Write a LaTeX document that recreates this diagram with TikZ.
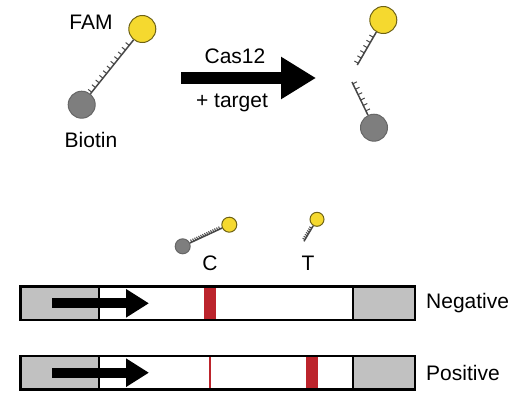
\documentclass[tikz,border=0pt]{standalone}
\usepackage{fontspec}
\setmainfont{Liberation Sans}
\usetikzlibrary{arrows.meta,decorations.markings}
\definecolor{Fam}{HTML}{F5D92F}
\definecolor{Bio}{HTML}{7E7E7E}
\definecolor{Pad}{HTML}{C1C1C1}
\definecolor{Line}{HTML}{BC242C}
\tikzset{
  dye/.style={circle,draw=#1,fill=#1,line width=1pt,inner sep=0pt,minimum size=27pt},
  famdye/.style={dye=Fam,draw=Fam!45!black},
  biodye/.style={dye=Bio,draw=black!60},
  strand/.style 2 args={draw=black!72,line width=1.5pt,postaction={decorate},
    decoration={markings,mark=between positions 2pt and -1pt step #1 with {\draw[line width=1pt,black!72] (0pt,0pt)--(0pt,#2);}}},
  strip/.style={draw=black,line width=2.3pt,inner sep=0pt,outer sep=0pt,minimum width=394.5pt,minimum height=33.5pt},
  pad/.style={draw=black,fill=Pad,line width=2.3pt,inner sep=0pt,outer sep=0pt,minimum height=33.5pt},
  flow/.style={line width=10pt,-{Triangle[length=23pt,width=27pt]}},
  band/.style={fill=Line,inner sep=0pt,minimum height=31pt,minimum width=12pt},
  lbl/.style={font=\fontsize{21}{24}\selectfont,inner sep=0pt}
}
\begin{document}
\begin{tikzpicture}[x=1pt,y=-1pt]
  \useasboundingbox (0,0) rectangle (512,410);
  % before
  \node[famdye] (fam) at (142.3,29) {};
  \node[biodye] (bio) at (81.7,104.7) {};
  \draw[strand={6pt}{4.5pt}] (bio)--(fam);
  \node[lbl] (famlbl) at (91,22) {FAM};
  \node[lbl] (biolbl) at (91,140) {Biotin};
  % reaction
  \coordinate (rxa) at (181,78);
  \coordinate (rxb) at (316,78);
  \draw[line width=12pt,-{Triangle[length=35pt,width=40pt]}] (rxa)--(rxb);
  \node[lbl] (cas) at (235,56) {Cas12};
  \node[lbl] (tgt) at (232,103) {+ target};
  % after
  \node[famdye] (famcut) at (383.3,20) {};
  \node[biodye] (biocut) at (374,127.7) {};
  \coordinate (famend) at (357.3,65);
  \coordinate (bioend) at (352,82);
  \draw[strand={6pt}{4.5pt}] (famend)--(famcut);
  \draw[strand={6pt}{4.5pt}] (bioend)--(biocut);
  % probes over the strips
  \node[famdye,minimum size=15pt] (famc) at (229.3,224.7) {};
  \node[biodye,minimum size=15pt] (bioc) at (182.7,246.3) {};
  \draw[strand={2.2pt}{2.8pt}] (bioc)--(famc);
  \node[famdye,minimum size=14pt] (famt) at (317,219.3) {};
  \coordinate (tend) at (304,241.3);
  \draw[strand={2.2pt}{2.8pt}] (tend)--(famt);
  \node[lbl] (clbl) at (210,263) {C};
  \node[lbl] (tlbl) at (308,263) {T};
  % strips
  \foreach \nm/\yc/\txt in {neg/303.3/Negative,pos/372.7/Positive}{
    \node[strip,fill=white] (\nm) at (217.7,\yc) {};
    \node[pad,minimum width=78.8pt] (\nm l) at (59.9,\yc) {};
    \node[pad,minimum width=62.3pt] (\nm r) at (383.85,\yc) {};
    \coordinate (\nm a) at (52,\yc);
    \coordinate (\nm b) at (149,\yc);
    \draw[flow] (\nm a)--(\nm b);
    \node[lbl,anchor=west] (\nm lbl) at (426,\yc) {\txt};
  }
  \node[band] (cneg) at (209.7,303.3) {};
  \node[band,minimum width=2pt] (cpos) at (209.7,372.7) {};
  \node[band] (tpos) at (311.7,372.7) {};
\end{tikzpicture}
\end{document}
